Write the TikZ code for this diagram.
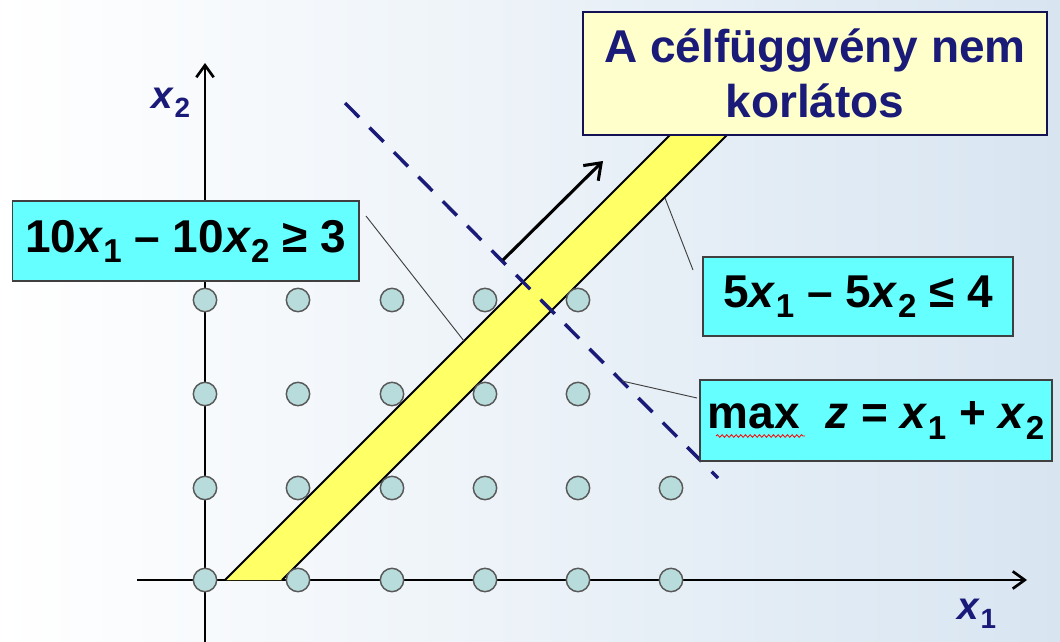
\documentclass[tikz,border=0pt]{standalone}
\usepackage{fontspec}
\setmainfont{Liberation Sans}
\usepackage{graphicx}
\usetikzlibrary{arrows.meta,decorations.pathmorphing}
\definecolor{navy}{HTML}{1A1A78}
\definecolor{cyanbox}{HTML}{66FFFF}
\definecolor{paleyellow}{HTML}{FFFFCC}
\definecolor{bandyellow}{HTML}{FFFF66}
\definecolor{dotfill}{HTML}{B8DCDC}
\definecolor{bgblue}{HTML}{D8E5F1}
\newcommand\sbx[1]{\raisebox{-0.22em}{\scalebox{0.72}{#1}}}
\begin{document}
\begin{tikzpicture}[x=0.75pt,y=-0.75pt,
  axis/.style={line width=2pt,-{Straight Barb[length=9pt,width=13pt,line width=2pt]}},
  dotnode/.style={circle,draw=black!65,line width=1.1pt,fill=dotfill,minimum size=17.5pt,inner sep=0pt},
  cbox/.style={draw=black!75,line width=1pt,fill=cyanbox,font=\fontsize{34.5}{40}\selectfont\bfseries,inner sep=0pt,align=center},
  ybox/.style={draw=navy!70!black,line width=1pt,fill=paleyellow,text=navy,font=\fontsize{34.5}{41}\selectfont\bfseries,inner sep=0pt,align=center},
  leader/.style={draw=black!75,line width=0.7pt},
  axlabel/.style={text=navy,font=\fontsize{29}{32}\selectfont\bfseries,inner sep=0pt},
  bandedge/.style={line width=1.5pt,draw=black}]
\useasboundingbox (0,0) rectangle (1060,642);
\shade[left color=white,middle color=white!85!bgblue,right color=bgblue] (0,0) rectangle (1060,642);

% axes
\coordinate (ox0) at (137,580);
\coordinate (ox1) at (1027,580);
\coordinate (oy0) at (205,642);
\coordinate (oy1) at (205,63);
\draw[axis] (ox0) -- (ox1);
\draw[axis] (oy0) -- (oy1);

% band
\coordinate (bl0) at (225,580);
\coordinate (br0) at (282,580);
\coordinate (bl1) at (680,125);
\coordinate (br1) at (737,125);
\fill[bandyellow] (bl0) -- (br0) -- (br1) -- (bl1) -- cycle;
\draw[bandedge] (bl0) -- (bl1);
\draw[bandedge] (br0) -- (br1);

% dashed objective line
\coordinate (da) at (345,103);
\coordinate (db) at (718,478);
\draw[navy,line width=2.6pt,dash pattern=on 15pt off 11pt] (da) -- (db);

% direction arrow
\coordinate (ar0) at (503,260);
\coordinate (ar1) at (603,161);
\draw[line width=2.3pt,-{Straight Barb[length=11pt,width=16pt,line width=2.3pt]}] (ar0) -- (ar1);

% lattice points
\foreach \i/\xx in {0/205,1/298,2/392,3/485,4/578,5/671}{
  \node[dotnode] (d\i-0) at (\xx,580) {};
  \node[dotnode] (d\i-1) at (\xx,488) {};
}
\foreach \i/\xx in {0/205,1/298,2/392,3/485,4/578}{
  \node[dotnode] (d\i-2) at (\xx,394) {};
  \node[dotnode] (d\i-3) at (\xx,300) {};
}

% boxes
\node[cbox,minimum width=260pt,minimum height=60pt] (b1) at (185.5,241)
  {10\textit{x}\sbx{1} – 10\textit{x}\sbx{2} ≥ 3};
\node[ybox,minimum width=348pt,minimum height=92pt] (b2) at (815,73.5)
  {A célfüggvény nem\\korlátos};
\node[cbox,minimum width=232.5pt,minimum height=59.25pt] (b3) at (858,296.5)
  {5\textit{x}\sbx{1} – 5\textit{x}\sbx{2} ≤ 4};
\node[cbox,minimum width=264pt,minimum height=60.75pt] (b4) at (876,420.5)
  {max\ \ \textit{z} = \textit{x}\sbx{1} + \textit{x}\sbx{2}};
\draw[red,line width=0.6pt,decorate,decoration={snake,amplitude=1pt,segment length=3.5pt}] (716,436) -- (805,436);

% leaders
\coordinate (l1a) at (366,216);
\coordinate (l1b) at (464,341);
\draw[leader] (l1a) -- (l1b);
\coordinate (l3a) at (693,270);
\coordinate (l3b) at (665,198);
\draw[leader] (l3a) -- (l3b);
\coordinate (l4a) at (697,398);
\coordinate (l4b) at (622,381);
\draw[leader] (l4a) -- (l4b);

% axis labels
\node[axlabel] (lx2) at (171,103) {\textit{x}\sbx{2}};
\node[axlabel] (lx1) at (977,614) {\textit{x}\sbx{1}};
\end{tikzpicture}
\end{document}
